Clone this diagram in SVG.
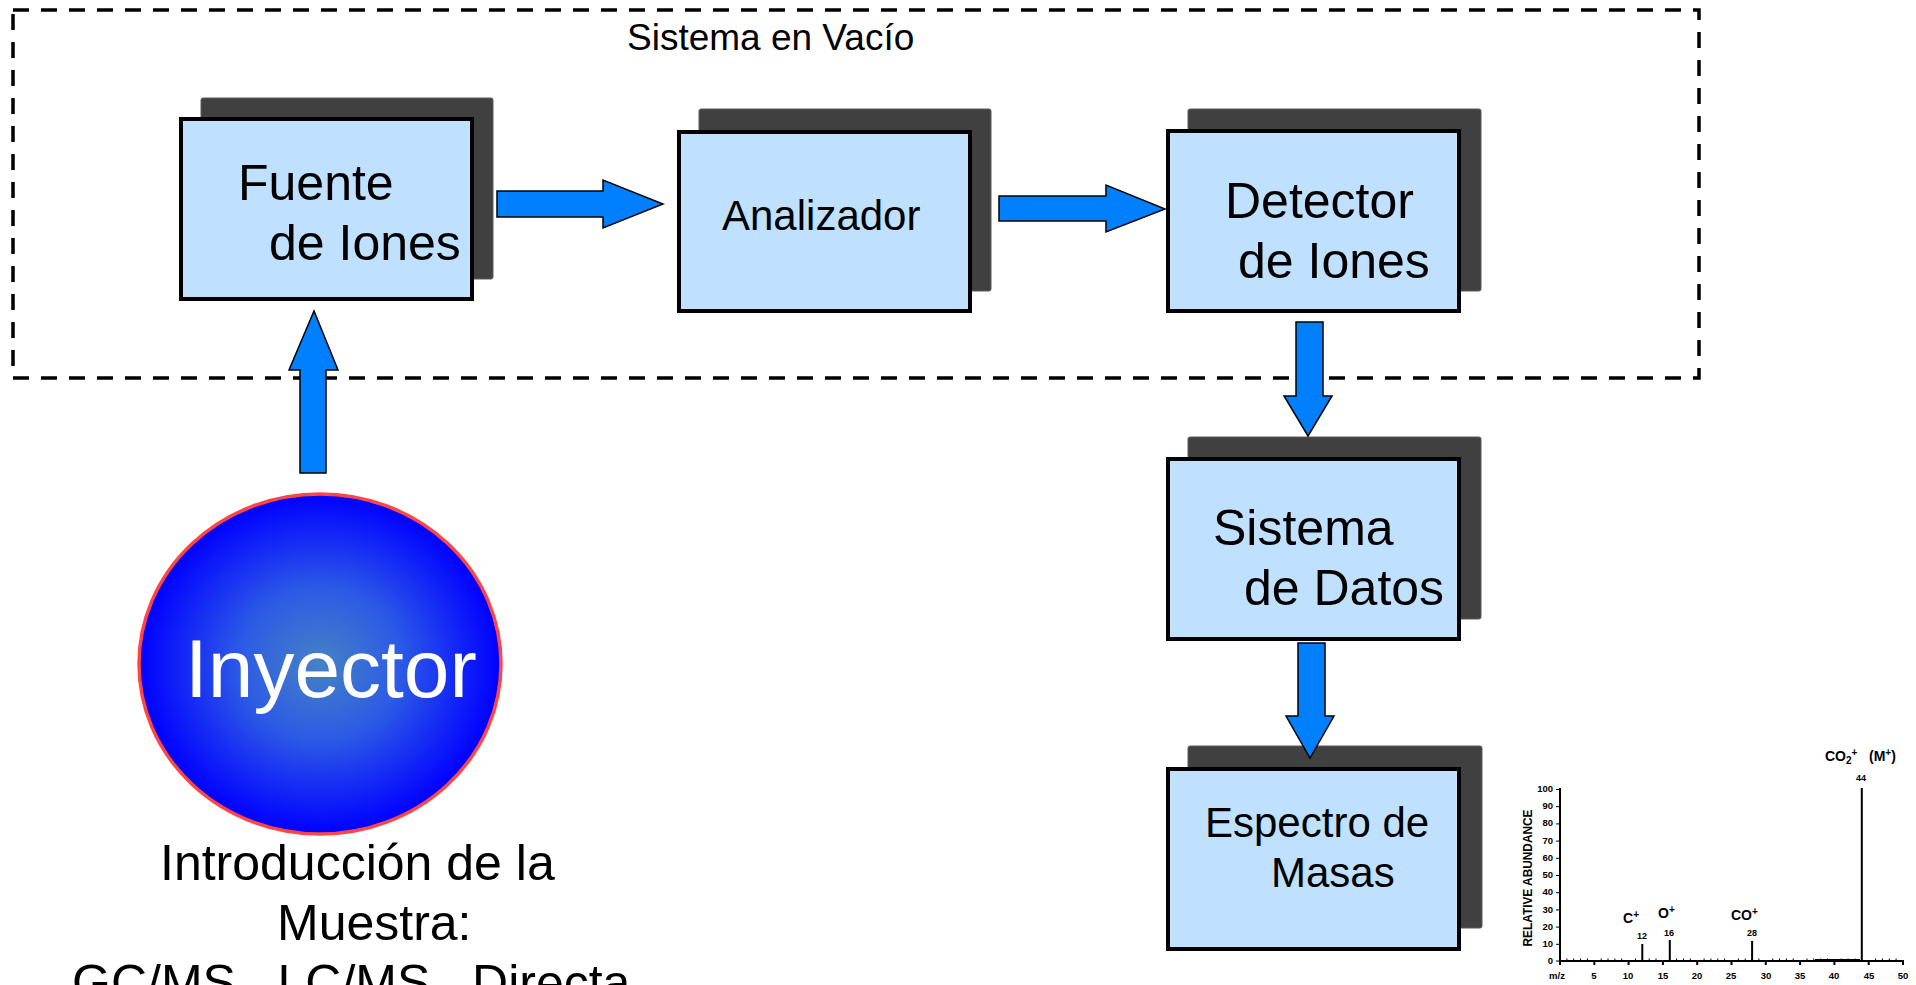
<svg xmlns="http://www.w3.org/2000/svg" width="1916" height="985" viewBox="0 0 1916 985">
  <style>
    .lbl { font-family: "Liberation Sans", Arial, sans-serif; fill: #000; }
    .big { font-size: 50px; }
    .mid { font-size: 42px; }
    .shadow { fill: #404040; stroke: #5a5a5a; stroke-width: 1; }
    .box { fill: #bfe0ff; stroke: #000; stroke-width: 4; }
    .flow { fill: #0080ff; stroke: #000; stroke-width: 1.5; stroke-linejoin: miter; }
    .chart { font-family: "Liberation Sans", Arial, sans-serif; font-weight: bold; fill: #000; }
    .tick { font-size: 9.5px; }
    .ion { font-size: 14px; }
    .mass { font-size: 9px; }
    .axis { stroke: #000; stroke-width: 2; fill: none; }
    .peak { stroke: #000; stroke-width: 2; }
    .minor { stroke: #000; stroke-width: 1; }
  </style>
  <defs>
    <radialGradient id="injGrad" cx="50%" cy="50%" r="50%">
      <stop offset="0" stop-color="#4682c4"/>
      <stop offset="0.45" stop-color="#2c5ae6"/>
      <stop offset="0.8" stop-color="#1020f8"/>
      <stop offset="1" stop-color="#0000ff"/>
    </radialGradient>
  </defs>

  <rect width="1916" height="985" fill="#fff"/>

  <!-- vacuum enclosure -->
  <g id="vacuum">
    <rect x="13" y="10" width="1686" height="368" fill="none" stroke="#000" stroke-width="3.5" stroke-dasharray="16 12"/>
    <text class="lbl" x="627" y="50" font-size="37">Sistema en Vacío</text>
  </g>

  <!-- blocks -->
  <g id="fuente">
    <rect class="shadow" x="201" y="98" width="292" height="181" rx="2"/>
    <rect class="box" x="181" y="119" width="291" height="180"/>
    <text class="lbl big" x="238" y="200">Fuente</text>
    <text class="lbl big" x="269" y="260">de Iones</text>
  </g>

  <g id="analizador">
    <rect class="shadow" x="699" y="109" width="292" height="182" rx="2"/>
    <rect class="box" x="679" y="132" width="291" height="179"/>
    <text class="lbl mid" x="722" y="230">Analizador</text>
  </g>

  <g id="detector">
    <rect class="shadow" x="1188" y="109" width="293" height="182" rx="2"/>
    <rect class="box" x="1168" y="131" width="291" height="180"/>
    <text class="lbl big" x="1225" y="218">Detector</text>
    <text class="lbl big" x="1238" y="278">de Iones</text>
  </g>

  <g id="datos">
    <rect class="shadow" x="1188" y="437" width="293" height="182" rx="2"/>
    <rect class="box" x="1168" y="459" width="291" height="180"/>
    <text class="lbl big" x="1213" y="545">Sistema</text>
    <text class="lbl big" x="1244" y="605">de Datos</text>
  </g>

  <g id="espectro">
    <rect class="shadow" x="1188" y="746" width="294" height="182" rx="2"/>
    <rect class="box" x="1168" y="769" width="291" height="180"/>
    <text class="lbl mid" x="1205" y="837">Espectro de</text>
    <text class="lbl mid" x="1271" y="887">Masas</text>
  </g>

  <g id="inyector">
    <ellipse cx="320" cy="664" rx="181" ry="170" fill="url(#injGrad)" stroke="#ff4545" stroke-width="3.5"/>
    <text class="lbl" x="185" y="697" font-size="82" style="fill:#fff">Inyector</text>
  </g>

  <g id="muestra">
    <text class="lbl big" x="160" y="880">Introducción de la</text>
    <text class="lbl big" x="277" y="940">Muestra:</text>
    <text class="lbl big" x="72" y="1000">GC/MS , LC/MS , Directa</text>
  </g>

  <!-- block arrows between stages -->
  <g id="connectors">
    <polygon class="flow" points="497,191 603,191 603,180 663,204 603,228 603,217 497,217"/>
    <polygon class="flow" points="999,196 1106,196 1106,185 1165,209 1106,232 1106,221 999,221"/>
    <polygon class="flow" points="1296,322 1323,322 1323,396 1332,396 1308,436 1284,396 1296,396"/>
    <polygon class="flow" points="1298,643 1325,643 1325,716 1334,716 1310,758 1286,716 1298,716"/>
    <polygon class="flow" points="300,473 326,473 326,370 338,370 314,311 289,370 300,370"/>
  </g>

  <!-- mass spectrum of CO2 -->
  <g id="spectrum">
    <!-- axes -->
    <path class="axis" d="M1560,788 V961 H1904"/>
    <!-- y ticks every 10 % -->
    <path class="minor" d="M1556,789.5 H1560 M1556,806.7 H1560 M1556,823.9 H1560 M1556,841.1 H1560 M1556,858.3 H1560 M1556,875.5 H1560 M1556,892.7 H1560 M1556,909.9 H1560 M1556,927.1 H1560 M1556,944.3 H1560 M1556,961 H1560"/>
    <!-- x ticks: every unit above, every 5 below -->
    <path class="minor" d="M1566.9,961 v-2.5 M1573.7,961 v-2.5 M1580.6,961 v-2.5 M1587.4,961 v-2.5 M1601.2,961 v-2.5 M1608,961 v-2.5 M1614.9,961 v-2.5 M1621.7,961 v-2.5 M1635.5,961 v-2.5 M1642.3,961 v-2.5 M1649.2,961 v-2.5 M1656,961 v-2.5 M1669.8,961 v-2.5 M1676.6,961 v-2.5 M1683.5,961 v-2.5 M1690.3,961 v-2.5 M1704.1,961 v-2.5 M1710.9,961 v-2.5 M1717.8,961 v-2.5 M1724.6,961 v-2.5 M1738.4,961 v-2.5 M1745.2,961 v-2.5 M1752.1,961 v-2.5 M1758.9,961 v-2.5 M1772.7,961 v-2.5 M1779.5,961 v-2.5 M1786.4,961 v-2.5 M1793.2,961 v-2.5 M1807,961 v-2.5 M1813.8,961 v-2.5 M1820.7,961 v-2.5 M1827.5,961 v-2.5 M1841.3,961 v-2.5 M1848.1,961 v-2.5 M1855,961 v-2.5 M1861.8,961 v-2.5 M1875.6,961 v-2.5 M1882.4,961 v-2.5 M1889.3,961 v-2.5 M1896.1,961 v-2.5"/>
    <path class="axis" d="M1560,961 v4 M1594.3,961 v4 M1628.6,961 v4 M1662.9,961 v4 M1697.2,961 v4 M1731.5,961 v4 M1765.8,961 v4 M1800.1,961 v4 M1834.4,961 v4 M1868.7,961 v4 M1903,961 v4" stroke-width="1.5"/>
    <!-- low background -->
    <path class="minor" d="M1815,959.5 H1860"/>
    <!-- peaks -->
    <path class="peak" d="M1642.3,961 V944 M1669.8,961 V940 M1752.1,961 V941 M1861.8,961 V788"/>
    <!-- y labels -->
    <g class="chart tick" text-anchor="end">
      <text x="1553" y="792">100</text>
      <text x="1553" y="809">90</text>
      <text x="1553" y="826">80</text>
      <text x="1553" y="844">70</text>
      <text x="1553" y="861">60</text>
      <text x="1553" y="878">50</text>
      <text x="1553" y="895">40</text>
      <text x="1553" y="913">30</text>
      <text x="1553" y="930">20</text>
      <text x="1553" y="947">10</text>
      <text x="1553" y="964">0</text>
    </g>
    <!-- x labels -->
    <g class="chart tick" text-anchor="middle">
      <text x="1557" y="979">m/z</text>
      <text x="1594" y="979">5</text>
      <text x="1628" y="979">10</text>
      <text x="1663" y="979">15</text>
      <text x="1697" y="979">20</text>
      <text x="1731" y="979">25</text>
      <text x="1766" y="979">30</text>
      <text x="1800" y="979">35</text>
      <text x="1834" y="979">40</text>
      <text x="1869" y="979">45</text>
      <text x="1903" y="979">50</text>
    </g>
    <text class="chart" font-size="12" transform="translate(1532,878) rotate(-90)" text-anchor="middle" textLength="137" lengthAdjust="spacingAndGlyphs">RELATIVE ABUNDANCE</text>
    <!-- ion labels -->
    <g class="chart">
      <text class="ion" x="1623" y="923">C<tspan font-size="10" dy="-5">+</tspan></text>
      <text class="mass" x="1637" y="939">12</text>
      <text class="ion" x="1658" y="918">O<tspan font-size="10" dy="-5">+</tspan></text>
      <text class="mass" x="1664" y="936">16</text>
      <text class="ion" x="1731" y="920">CO<tspan font-size="10" dy="-5">+</tspan></text>
      <text class="mass" x="1747" y="936">28</text>
      <text class="ion" x="1825" y="761">CO<tspan font-size="10" dy="3">2</tspan><tspan font-size="10" dy="-8">+</tspan></text>
      <text class="ion" x="1869" y="761">(M<tspan font-size="10" dy="-5">+</tspan><tspan dy="5">)</tspan></text>
      <text class="mass" x="1856" y="781">44</text>
    </g>
  </g>
</svg>
